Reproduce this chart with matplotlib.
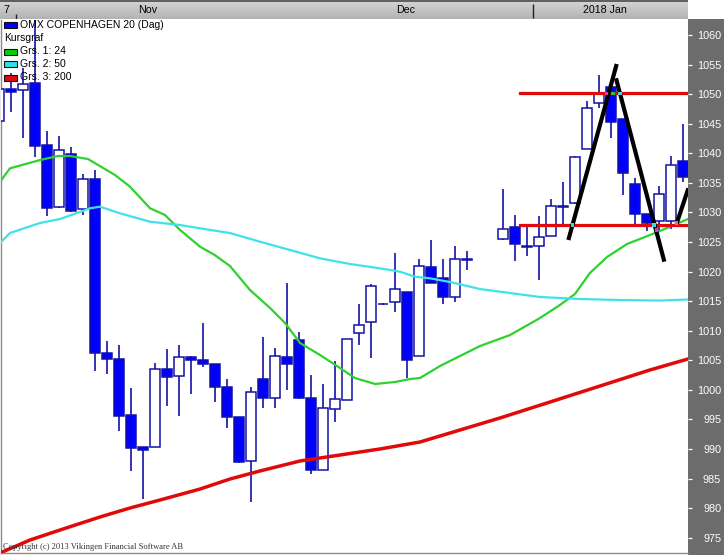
import matplotlib
matplotlib.use("Agg")
import matplotlib.pyplot as plt
from matplotlib.patches import Rectangle
import numpy as np

plt.rcParams['font.family'] = ['Liberation Sans', 'DejaVu Sans']

# ---------------- data ----------------
days = list(range(0, 40)) + list(range(42, 58))
opens = [1045.5, 1050.8, 1050.7, 1051.9, 1041.4, 1031.0, 1039.8, 1030.6, 1035.7, 1006.2,
         1005.2, 995.8, 990.4, 990.4, 1003.6, 1002.3, 1005.5, 1005.1, 1004.4, 1000.4,
         995.4, 988.0, 1001.8, 998.7, 1005.6, 1008.4, 998.7, 986.5, 996.7, 998.2,
         1009.6, 1011.4, 1014.6, 1014.8, 1016.5, 1005.8, 1020.7, 1018.9, 1015.7, 1022.2,
         1025.5, 1027.5, 1024.4, 1024.4, 1026.0, 1031.1, 1031.6, 1040.8, 1048.5, 1051.2,
         1045.8, 1034.8, 1029.7, 1028.6, 1028.6, 1038.7]
highs = [1051.5, 1053.6, 1054.4, 1063.0, 1043.8, 1042.9, 1041.0, 1036.5, 1037.2, 1008.3,
         1007.6, 1000.3, 990.4, 1004.6, 1006.9, 1007.6, 1005.7, 1011.3, 1004.4, 1001.8,
         995.4, 1000.5, 1008.9, 1007.1, 1018.0, 1009.7, 1002.5, 1001.0, 1004.9, 1008.6,
         1014.6, 1017.9, 1014.7, 1023.1, 1016.6, 1022.2, 1025.3, 1022.1, 1024.3, 1023.5,
         1033.9, 1029.6, 1027.7, 1029.4, 1032.3, 1035.1, 1039.5, 1048.8, 1053.2, 1051.2,
         1045.8, 1035.9, 1029.7, 1034.4, 1039.6, 1044.9]
lows = [1044.5, 1047.0, 1042.6, 1039.4, 1029.4, 1030.8, 1030.1, 1029.6, 1003.2, 1002.6,
        993.1, 986.3, 981.5, 990.3, 997.2, 995.6, 999.3, 1003.9, 998.0, 993.6,
        987.7, 981.1, 996.9, 996.9, 999.9, 998.5, 985.7, 986.4, 994.6, 998.2,
        1007.6, 1005.3, 1014.4, 1013.1, 1002.0, 1005.8, 1018.0, 1014.6, 1014.9, 1020.2,
        1025.3, 1021.8, 1022.7, 1018.6, 1026.0, 1027.9, 1031.4, 1040.8, 1047.7, 1042.6,
        1033.0, 1027.5, 1026.9, 1027.0, 1027.2, 1035.2]
closes = [1050.8, 1050.4, 1051.8, 1041.3, 1030.7, 1040.6, 1030.3, 1035.7, 1006.2, 1005.2,
          995.6, 990.2, 989.9, 1003.6, 1002.1, 1005.5, 1005.1, 1004.3, 1000.4, 995.4,
          987.8, 999.7, 998.6, 1005.7, 1004.3, 998.6, 986.5, 996.9, 998.4, 1008.6,
          1010.9, 1017.5, 1014.45, 1017.0, 1005.1, 1020.9, 1018.0, 1015.7, 1022.2, 1022.0,
          1027.2, 1024.6, 1024.2, 1025.8, 1031.1, 1031.0, 1039.4, 1047.6, 1050.2, 1045.3,
          1036.6, 1029.7, 1028.2, 1033.1, 1038.1, 1036.0]

# moving averages (position in trading-day slots, value)
ma24_x = [0.19, 0.94, 3.44, 4.94, 5.94, 7.44, 9.69, 10.94, 12.61, 13.86, 15.11, 16.78, 18.0,
          19.27, 20.94, 22.61, 23.86, 25.11, 26.77, 28.44, 29.69, 31.36, 33.03, 34.28, 35.11,
          36.77, 38.44, 40.11, 42.61, 45.11, 46.77, 48.02, 49.27, 50.69, 52.36, 54.27, 55.69, 57.44]
ma24_y = [1035.4, 1037.46, 1038.86, 1039.54, 1039.54, 1039.03, 1036.33, 1034.35, 1030.70, 1029.56,
          1027.03, 1024.20, 1022.80, 1020.94, 1016.88, 1013.84, 1011.30, 1007.92, 1005.89, 1003.69,
          1002.00, 1000.99, 1001.33, 1001.83, 1002.00, 1004.03, 1005.72, 1007.41, 1009.27, 1012.15,
          1014.35, 1016.21, 1019.76, 1022.46, 1024.66, 1026.18, 1027.37, 1028.89]
ma50_x = [0.19, 0.94, 3.44, 5.11, 7.61, 8.44, 10.11, 12.61, 15.11, 16.78, 19.27, 21.77, 24.27,
          26.77, 29.27, 31.77, 33.44, 34.69, 35.94, 37.61, 40.11, 42.61, 45.11, 48.44, 51.77,
          55.11, 57.44]
ma50_y = [1025.0, 1026.52, 1028.21, 1028.89, 1030.70, 1030.97, 1029.85, 1028.43, 1027.87, 1027.31,
          1026.52, 1025.05, 1023.65, 1022.24, 1021.28, 1020.55, 1019.98, 1019.13, 1018.86, 1018.23,
          1017.05, 1016.37, 1015.70, 1015.36, 1015.19, 1015.10, 1015.28]
ma200_x = [0.11, 2.61, 5.11, 8.44, 10.94, 13.44, 16.78, 19.27, 21.77, 25.11, 28.44, 31.77,
           35.11, 38.44, 41.77, 45.94, 50.11, 54.27, 57.44]
ma200_y = [972.41, 974.61, 976.30, 978.50, 980.02, 981.37, 983.23, 984.92, 986.28, 987.97,
           988.98, 990.00, 991.18, 993.21, 995.24, 997.94, 1000.65, 1003.36, 1005.22]

# drawn levels and pattern lines
level_start = 43.45
levels = [1050.15, 1027.85]
pattern_x = [[47.47, 51.50], [51.44, 55.47], [56.50, 57.47]]
pattern_y = [[1025.34, 1055.10], [1052.68, 1021.67], [1028.16, 1034.08]]
# small intersection markers drawn by the charting tool
mark_x = [47.8, 51.78, 51.2, 50.67, 54.6, 54.83, 56.5]
mark_y = [1027.85, 1050.15, 1050.15, 1050.15, 1027.85, 1027.0, 1028.2]
mark_c = ['#40d8e0', '#40d8e0', '#30c030', '#d040c0', '#40d8e0', '#d040c0', '#e060c0']

yticks = list(range(975, 1061, 5))
month_labels = ['7', 'Nov', 'Dec', '2018 Jan']

legend_title = 'OMX COPENHAGEN 20 (Dag)'
legend_sub = 'Kursgraf'
legend_ma = ['Grs. 1: 24', 'Grs. 2: 50', 'Grs. 3: 200']

# ---------------- layout ----------------
W, H = 724, 555
fig = plt.figure(figsize=(W / 100, H / 100), dpi=100)
fig.patch.set_facecolor('white')


def fr(x0, y0, x1, y1):
    return [x0 / W, 1 - y1 / H, (x1 - x0) / W, (y1 - y0) / H]


# gray price panel on the right
panel = fig.add_axes(fr(688, 19, 724, 555), zorder=0)
panel.set_facecolor('#6c6c6c')
panel.set_xticks([]); panel.set_yticks([])
for s in panel.spines.values():
    s.set_visible(False)

# header bar
header = fig.add_axes(fr(0, 0, 688, 19), zorder=0)
grad = np.linspace(0, 1, 50).reshape(-1, 1)
header.imshow(grad, aspect='auto', cmap=matplotlib.colors.LinearSegmentedColormap.from_list(
    'g', ['#d6d6d6', '#c4c4c4', '#b2b2b2']), extent=[0, 688, 19, 0])
header.set_xlim(0, 688); header.set_ylim(19, 0)
header.axis('off')
header.plot([0, 688], [0.6, 0.6], color='#4a4a4a', lw=1.2)
header.vlines([533], 4, 18, color='#202020', lw=1)
header.vlines([16], 14, 19, color='#202020', lw=1)
for xpos, lab in zip([6, 147.5, 406, 604.5], month_labels):
    header.text(xpos, 10, lab, ha='center', va='center', fontsize=7.7, color='black')

# main chart
ax = fig.add_axes(fr(1, 20, 688, 553), zorder=2)
ax.set_xlim(0.19, 57.44)
ax.set_ylim(972.41, 1062.54)
ax.set_facecolor('white')

body_w = 0.83
edge = '#1212a6'
min_h = 0.15
for d, o, h, l, c in zip(days, opens, highs, lows, closes):
    ax.vlines(d, l, h, color=edge, lw=1.2, zorder=2)
    bull = c >= o
    lo_b = min(o, c)
    hgt = abs(c - o)
    if hgt < min_h:
        lo_b = (o + c) / 2 - min_h / 2
        hgt = min_h
    ax.bar(d, hgt, bottom=lo_b, width=body_w, color='white' if bull else '#0000ff',
           edgecolor=edge, linewidth=1.1, zorder=3)

ax.plot(ma24_x, ma24_y, color='#2ed22e', lw=1.6, zorder=4)
ax.plot(ma50_x, ma50_y, color='#3fe2ea', lw=1.6, zorder=4)
ax.plot(ma200_x, ma200_y, color='#e00a0a', lw=2.5, zorder=4)

for lv in levels:
    ax.plot([level_start, 57.44], [lv, lv], color='#e00a0a', lw=2.3, zorder=5)
for px, py in zip(pattern_x, pattern_y):
    ax.plot(px, py, color='black', lw=3.0, solid_capstyle='butt', zorder=6)
ax.scatter(mark_x, mark_y, s=6, marker='s', c=mark_c, linewidths=0, zorder=7)

ax.set_xticks([])
ax.yaxis.tick_right()
ax.set_yticks(yticks)
ax.set_yticklabels([str(t) for t in yticks], ha='right')
ax.tick_params(axis='y', direction='out', length=2.9, width=0.9, color='white',
               labelcolor='white', labelsize=7.8, pad=21.0)
for side in ['top', 'right']:
    ax.spines[side].set_visible(False)
for side in ['left', 'bottom']:
    ax.spines[side].set_color('#8a8a8a')
    ax.spines[side].set_linewidth(1.0)

# overlay for legend and copyright
ov = fig.add_axes([0, 0, 1, 1], zorder=3)
ov.set_xlim(0, W); ov.set_ylim(H, 0)
ov.axis('off')
ov.patch.set_alpha(0)

sw_colors = ['#0000ff', None, '#00d000', '#30e0e8', '#e00a0a']
rows_y = [25, 38, 51.5, 64, 77.5]
texts = [legend_title, legend_sub] + legend_ma
for col, yy, t in zip(sw_colors, rows_y, texts):
    if col is not None:
        ov.add_patch(Rectangle((4, yy - 3), 12.5, 6, facecolor=col, edgecolor='#101010', lw=0.8))
        ov.text(20, yy, t, ha='left', va='center', fontsize=7.5, color='black')
    else:
        ov.text(4, yy, t, ha='left', va='center', fontsize=7.5, color='black')

ov.text(3, 547, 'Copyright (c) 2013 Vikingen Financial Software AB', ha='left', va='center',
        fontsize=6.1, color='#333333', family=['Liberation Serif', 'DejaVu Serif'])

fig.savefig('out.png', dpi=100)
